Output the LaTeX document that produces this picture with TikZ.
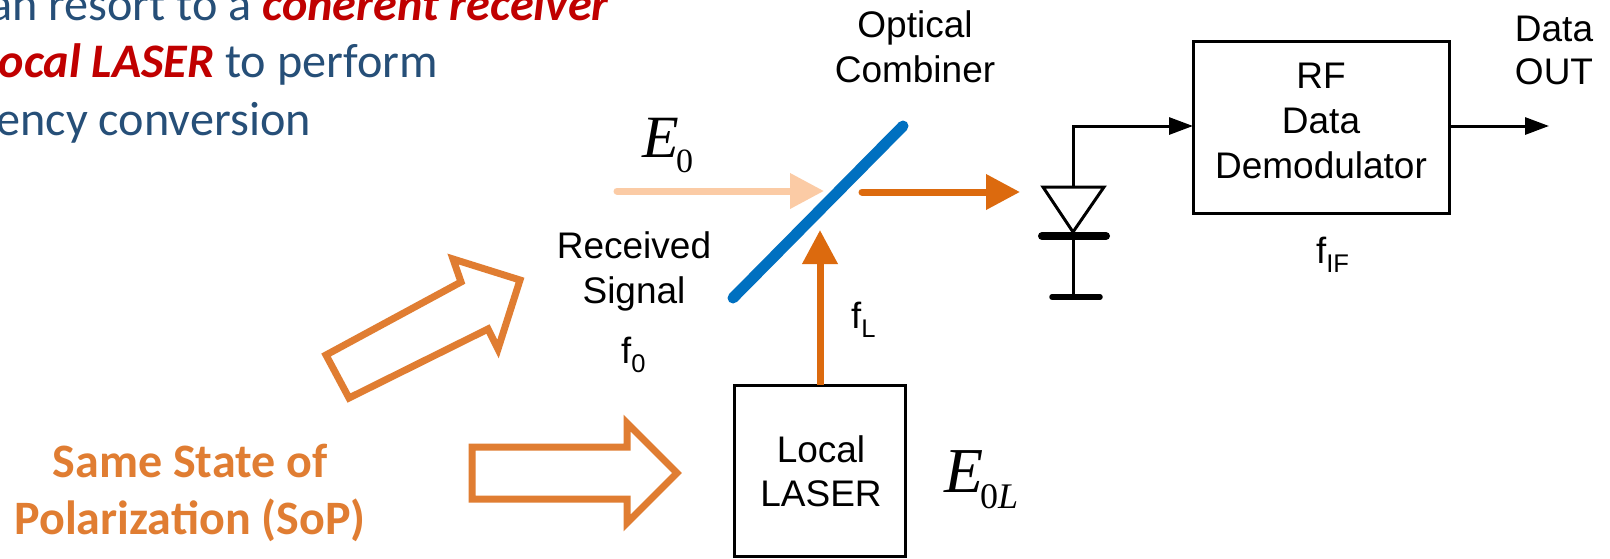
\documentclass[tikz,border=0pt]{standalone}
\usepackage{fontspec}
\setmainfont{Liberation Sans}
\newfontfamily\cali{Carlito}
\newfontfamily\tnr{Liberation Serif}
\usetikzlibrary{arrows.meta}
\definecolor{bluetxt}{HTML}{264F78}
\definecolor{redtxt}{HTML}{C00000}
\definecolor{sop}{HTML}{E07D32}
\definecolor{beam}{HTML}{DC6A0E}
\definecolor{pale}{HTML}{FBCBA5}
\definecolor{mirror}{HTML}{0070C0}
\tikzset{
  x=1pt,y=-1pt,
  lbl/.style={inner sep=0pt,outer sep=0pt,align=center,anchor=base,font=\fontsize{37}{45}\selectfont},
  sublbl/.style={inner sep=0pt,anchor=base west,font=\fontsize{36.5}{45}\selectfont},
  para/.style={inner sep=0pt,anchor=base east,text=bluetxt,font=\cali\fontsize{48.2}{58}\selectfont},
  soptxt/.style={inner sep=0pt,align=center,anchor=base,text=sop,font=\cali\bfseries\fontsize{48}{58}\selectfont},
  blockbox/.style={draw=black,line width=3pt,inner sep=0pt,outer sep=0pt,anchor=north west},
  wire/.style={draw=black,line width=3pt},
  wirearrow/.style={wire,-{Triangle[length=24pt,width=17pt]}},
  beamarrow/.style={line width=7pt,line cap=round,-{Triangle[length=34pt,width=34pt]}},
  hollow/.style={draw=sop,line width=7pt,miter limit=10,line join=miter},
}
\newcommand{\hl}[1]{{\color{redtxt}\bfseries\itshape #1}}
\begin{document}
\begin{tikzpicture}
\path[use as bounding box,clip] (0,0) rectangle (1610,558);
\fill[white] (0,0) rectangle (1610,558);
% paragraph
\node[para] (p1) at (609,20) {an resort to a \hl{coherent receiver}};
\node[para] (p2) at (438,77) {\hl{local LASER} to perform};
\node[para] (p3) at (311,135) {ency conversion};
% hollow arrows
\draw[hollow] (472,447) -- (627,447) -- (627,423) -- (677,473) -- (627,523) -- (627,499) -- (472,499) -- cycle;
\draw[hollow] (326,355) -- (461,282) -- (453,259) -- (520,280) -- (498,349) -- (488,329) -- (349,398) -- cycle;
\node[soptxt] (sop1) at (190,477) {Same State of};
\node[soptxt] (sop2) at (190,534) {Polarization (SoP)};
% boxes
\node[blockbox,minimum width=171pt,minimum height=171pt] (laser) at (734,385) {};
\node[blockbox,minimum width=256pt,minimum height=172pt] (demod) at (1193,41) {};
% coordinates
\coordinate (mirA) at (733,298);
\coordinate (mirB) at (903,126);
\coordinate (rxS) at (617,191);
\coordinate (rxE) at (824,191);
\coordinate (outS) at (862,192);
\coordinate (outE) at (1020,192);
\coordinate (loE) at (820,230);
\coordinate (dtop) at (1073,187);
\coordinate (dL) at (1043,187);
\coordinate (dR) at (1104,187);
\coordinate (dtip) at (1073,232);
\coordinate (barL) at (1042,236);
\coordinate (barR) at (1106,236);
\coordinate (gnd) at (1073,297);
\coordinate (gndL) at (1052,297);
\coordinate (gndR) at (1100,297);
\coordinate (dataE) at (1549,126);
% optical
\draw[mirror,line width=11pt,line cap=round] (mirA) -- (mirB);
\draw[beamarrow,pale] (rxS) -- (rxE);
\draw[beamarrow,beam] (outS) -- (outE);
\draw[beamarrow,beam,line cap=butt] (laser.north -| loE) -- (loE);
% diode
\draw[wire,line join=miter] (dL) -- (dR) -- (dtip) -- cycle;
\draw[black,line width=8pt,line cap=round] (barL) -- (barR);
\draw[wire] (barL -| gnd) -- (gnd);
\draw[black,line width=5.5pt,line cap=round] (gndL) -- (gndR);
\draw[wirearrow,line join=miter] (dtop) -- (1073,126) -- (demod.west |- 0,126);
\draw[wirearrow] (demod.east |- 0,126) -- (dataE);
% labels
\node[lbl] (opt1) at (915,37) {Optical};
\node[lbl] (opt2) at (915,82) {Combiner};
\node[lbl] (rec1) at (634,258) {Received};
\node[lbl] (rec2) at (634,303) {Signal};
\node[lbl] (loc1) at (821,462) {Local};
\node[lbl] (loc2) at (821,506) {LASER};
\node[lbl] (rf1) at (1321,88) {RF};
\node[lbl] (rf2) at (1321,133) {Data};
\node[lbl] (rf3) at (1321,178) {Demodulator};
\node[lbl] (out1) at (1554,41) {Data};
\node[lbl] (out2) at (1554,84) {OUT};
\node[sublbl] (f0) at (621,363) {f\textsubscript{0}};
\node[sublbl] (fL) at (851,328) {f\textsubscript{L}};
\node[sublbl] (fIF) at (1316,263) {f\textsubscript{IF}};
\node[inner sep=0pt,anchor=base west,font=\tnr\itshape\fontsize{60}{60}\selectfont] (E0) at (642,157) {E};
\node[inner sep=0pt,anchor=base west,font=\tnr\fontsize{34}{36}\selectfont] (E0s) at (676,172) {0};
\node[inner sep=0pt,anchor=base west,font=\tnr\itshape\fontsize{64}{64}\selectfont] (E0L) at (944,492) {E};
\node[inner sep=0pt,anchor=base west,font=\tnr\fontsize{36}{36}\selectfont] (E0Ls) at (980,508) {0\textit{L}};
\end{tikzpicture}
\end{document}
